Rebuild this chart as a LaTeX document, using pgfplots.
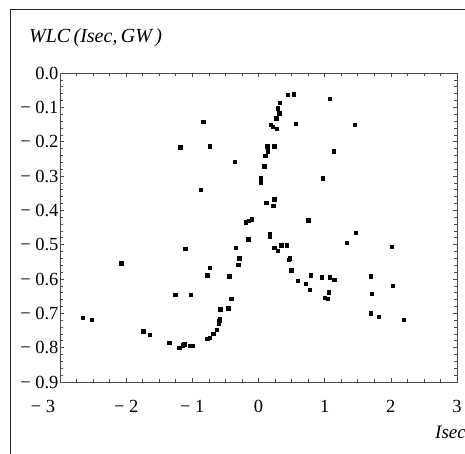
\documentclass[border=0pt]{standalone}
\usepackage{fontspec}
\setmainfont{Liberation Serif}
\usepackage{pgfplots}
\pgfplotsset{compat=1.18}

\pgfplotstableread{
x y
-0.833 -0.142
-1.185 -0.216
-0.742 -0.213
-0.364 -0.259
-0.878 -0.340
0.444 -0.064
0.528 -0.062
1.073 -0.074
0.323 -0.087
0.286 -0.102
0.312 -0.117
0.267 -0.132
0.559 -0.148
0.181 -0.151
0.217 -0.157
0.277 -0.162
1.451 -0.151
0.131 -0.213
0.237 -0.213
0.135 -0.228
0.100 -0.241
1.139 -0.228
0.085 -0.271
0.029 -0.305
0.029 -0.312
0.029 -0.318
0.967 -0.306
0.116 -0.377
0.237 -0.367
0.221 -0.387
0.751 -0.429
-0.191 -0.435
-0.146 -0.430
-0.101 -0.426
0.166 -0.468
0.166 -0.475
-0.157 -0.484
-0.343 -0.509
0.237 -0.509
0.292 -0.518
0.342 -0.502
0.429 -0.502
0.468 -0.539
0.453 -0.544
-0.293 -0.539
-0.308 -0.558
0.494 -0.574
-0.736 -0.567
-0.777 -0.589
-0.444 -0.592
0.595 -0.605
0.716 -0.613
0.770 -0.632
0.786 -0.589
-0.414 -0.658
1.472 -0.466
1.333 -0.494
2.017 -0.506
0.952 -0.595
1.076 -0.595
1.144 -0.602
1.003 -0.654
1.046 -0.658
1.061 -0.638
1.693 -0.592
1.714 -0.642
2.032 -0.620
1.693 -0.700
1.814 -0.710
2.192 -0.719
-1.110 -0.512
-2.077 -0.554
-1.256 -0.645
-1.026 -0.645
-0.459 -0.685
-0.580 -0.688
-0.585 -0.715
-0.595 -0.722
-0.606 -0.729
-0.636 -0.748
-0.682 -0.759
-0.777 -0.774
-0.742 -0.771
-2.657 -0.713
-2.521 -0.719
-1.740 -0.752
-1.643 -0.762
-1.347 -0.786
-1.196 -0.800
-1.150 -0.793
-1.125 -0.790
-1.044 -0.795
-1.004 -0.795
}\wlcdata

\begin{document}
\begin{tikzpicture}
\useasboundingbox (0pt,0pt) rectangle (465pt,454pt);
\begin{scope}
\clip (0pt,0pt) rectangle (465pt,454pt);
\begin{axis}[
    at={(60pt,72pt)}, anchor=south west,
    scale only axis, width=397pt, height=309pt,
    xmin=-3, xmax=3, ymin=-0.9, ymax=0,
    axis line style={black!70, line width=0.8pt},
    xtick={-3,-2,-1,0,1,2,3},
    xticklabels={,− 2,− 1,0,1,2,3},
    extra x ticks={-3},
    extra x tick labels={− 3},
    extra x tick style={xticklabel style={xshift=-17pt}},
    ytick={0,-0.1,-0.2,-0.3,-0.4,-0.5,-0.6,-0.7,-0.8,-0.9},
    yticklabels={0.0,− 0.1,− 0.2,− 0.3,− 0.4,− 0.5,− 0.6,− 0.7,− 0.8,− 0.9},
    minor x tick num=3, minor y tick num=4,
    tick align=inside,
    major tick length=4pt, minor tick length=2.5pt,
    tick style={black!70, line width=0.6pt},
    tick label style={font=\fontsize{18.5}{22}\selectfont},
    xticklabel style={yshift=-15pt},
    yticklabel style={xshift=2pt},
]
\addplot[only marks, mark=square*, mark size=1.7pt, black] table[x=x,y=y] {\wlcdata};
\end{axis}
\draw[black!85, line width=0.9pt] (10pt,0pt) -- (10pt,445pt) -- (465pt,445pt);
\node[anchor=west, inner sep=0pt, font=\fontsize{20}{24}\selectfont\itshape]
  at (29pt,416pt) {WLC\,(Isec,\,GW\,)};
\node[anchor=west, inner sep=0pt, font=\fontsize{19}{23}\selectfont\itshape]
  at (435pt,22pt) {Isec};
\end{scope}
\end{tikzpicture}
\end{document}
